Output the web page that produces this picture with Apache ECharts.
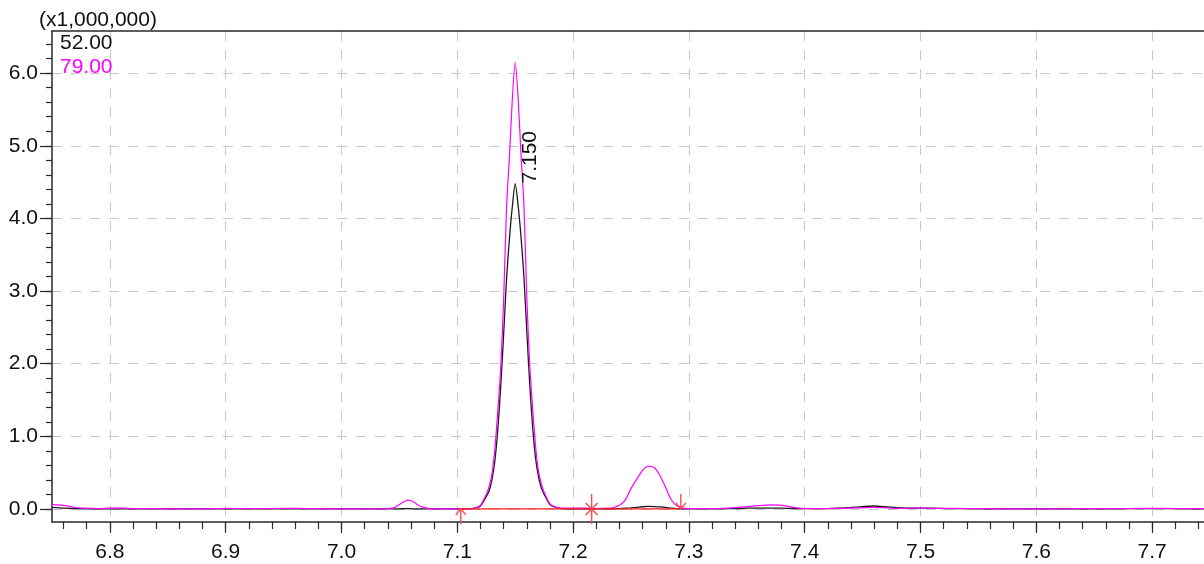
<!DOCTYPE html>
<html>
<head>
<meta charset="utf-8">
<title>TIC 52 / 79</title>
<script src="https://cdn.jsdelivr.net/npm/echarts@6/dist/echarts.min.js"></script>
<style>
  html, body { margin: 0; padding: 0; background: #fff; }
  #chart { width: 1204px; height: 564px; }
</style>
</head>
<body>
<div id="chart"></div>
<script>
// retention time (min)
var times = [
  6.750, 6.760, 6.770, 6.780, 6.790, 6.800, 6.810, 6.820, 6.840, 6.860,
  6.880, 6.900, 6.920, 6.940, 6.960, 6.980, 7.000, 7.020, 7.040, 7.045,
  7.050, 7.055, 7.058, 7.062, 7.066, 7.070, 7.075, 7.080, 7.090, 7.100,
  7.110, 7.115, 7.120, 7.125, 7.1275, 7.130, 7.1325, 7.135, 7.1375, 7.140,
  7.1425, 7.145, 7.1475, 7.150, 7.1525, 7.155, 7.1575, 7.160, 7.1625, 7.165,
  7.1675, 7.170, 7.1725, 7.175, 7.180, 7.185, 7.190, 7.200, 7.210, 7.220,
  7.230, 7.235, 7.240, 7.245, 7.250, 7.255, 7.260, 7.265, 7.270, 7.275,
  7.280, 7.285, 7.290, 7.295, 7.300, 7.310, 7.320, 7.330, 7.340, 7.350,
  7.360, 7.370, 7.380, 7.390, 7.400, 7.410, 7.420, 7.430, 7.440, 7.450,
  7.460, 7.470, 7.480, 7.490, 7.500, 7.510, 7.520, 7.540, 7.560, 7.580,
  7.600, 7.620, 7.640, 7.660, 7.680, 7.700, 7.720, 7.740, 7.750
];
// intensity, x1,000,000 — m/z 52.00
var ion52 = [
  0.02, 0.01, 0.005, 0, 0, 0, 0, 0, 0, 0,
  0, 0, 0, 0, 0, 0, 0, 0, 0, 0,
  0.002, 0.003, 0.003, 0.002, 0, 0, 0, 0, 0, 0,
  0, 0.01, 0.04, 0.17, 0.25, 0.41, 0.67, 1.10, 1.69, 2.40,
  3.16, 3.72, 4.16, 4.48, 4.18, 3.75, 3.20, 2.45, 1.73, 1.14,
  0.71, 0.45, 0.29, 0.20, 0.06, 0.02, 0.005, 0, 0, 0,
  0, 0.002, 0.005, 0.01, 0.015, 0.022, 0.03, 0.034, 0.033, 0.028,
  0.02, 0.01, 0.004, 0, 0, 0, 0, 0.003, 0.006, 0.01,
  0.012, 0.012, 0.01, 0.006, 0.004, 0.003, 0.005, 0.012, 0.02, 0.032,
  0.04, 0.03, 0.018, 0.012, 0.012, 0.01, 0.006, 0.003, 0, 0,
  0, 0, 0, 0.002, 0.003, 0.003, 0.003, 0.002, 0.002
];
// intensity, x1,000,000 — m/z 79.00
var ion79 = [
  0.06, 0.05, 0.02, 0.01, 0.005, 0.01, 0.01, 0.005, 0.003, 0,
  0, 0.008, 0.004, 0.006, 0.008, 0.003, 0, 0, 0.003, 0.015,
  0.06, 0.11, 0.12, 0.10, 0.055, 0.025, 0.008, 0, 0, 0,
  0, 0.01, 0.05, 0.20, 0.31, 0.49, 0.84, 1.36, 1.94, 2.87,
  4.15, 4.84, 5.64, 6.15, 5.66, 4.88, 4.20, 2.92, 1.99, 1.40,
  0.88, 0.53, 0.35, 0.23, 0.07, 0.025, 0.01, 0.01, 0.01, 0.005,
  0.01, 0.02, 0.05, 0.12, 0.28, 0.41, 0.53, 0.59, 0.57, 0.46,
  0.29, 0.12, 0.04, 0.012, 0.005, 0.003, 0.005, 0.008, 0.018, 0.032,
  0.046, 0.055, 0.05, 0.022, 0.006, 0.004, 0.006, 0.008, 0.012, 0.018,
  0.022, 0.015, 0.008, 0.01, 0.01, 0.008, 0.008, 0.006, 0.003, 0,
  0, 0.002, 0.003, 0.004, 0.006, 0.007, 0.006, 0.004, 0.004
];
var seriesNames = ['52.00', '79.00'];
var seriesColors = ['#1a1a1a', '#ff00ff'];

// integration: peak start, valley split, peak end
var peakMarks = [7.103, 7.216, 7.293];
var markKinds = ['start', 'split', 'end'];
var peakTime = 7.150;

var xTicks = [6.8, 6.9, 7.0, 7.1, 7.2, 7.3, 7.4, 7.5, 7.6, 7.7];
var yTicks = [0, 1, 2, 3, 4, 5, 6];
var xMin = 6.75, xMax = 7.7448;
var yMin = -0.18, yMax = 6.58;

var xMinor = [];
for (var t = 6.76; t < 7.745; t += 0.02) xMinor.push(Math.round(t * 100) / 100);
var yMinor = [];
for (var v = 0; v <= 6.45; v += 0.2) yMinor.push(Math.round(v * 10) / 10);

var font = '"Liberation Sans", Arial, sans-serif';
var axisCol = '#2a2a2a';
var gridCol = '#c8c8c8';

function pairs(vals) {
  return times.map(function (t, i) { return [t, vals[i]]; });
}

var chart = echarts.init(document.getElementById('chart'), null, { renderer: 'canvas' });

function baseAxis(extra) {
  var a = {
    type: 'value',
    axisLine: { show: false, onZero: false },
    axisTick: { show: false },
    axisLabel: { show: false },
    splitLine: { show: false }
  };
  for (var k in extra) a[k] = extra[k];
  return a;
}

chart.setOption({
  animation: false,
  backgroundColor: '#fff',
  textStyle: { fontFamily: font },
  title: {
    text: '(x1,000,000)',
    left: 39, top: 10, padding: 0,
    textStyle: { fontSize: 21, fontWeight: 'normal', color: '#111', fontFamily: font }
  },
  legend: {
    orient: 'vertical',
    left: 55, top: 33, padding: 0,
    icon: 'none', itemWidth: 0, itemHeight: 21, itemGap: 3,
    selectedMode: false,
    textStyle: { fontSize: 21, fontFamily: font },
    data: [
      { name: seriesNames[0], textStyle: { color: '#111' } },
      { name: seriesNames[1], textStyle: { color: seriesColors[1] } }
    ]
  },
  grid: { left: 52, right: -2, top: 31, bottom: 42, containLabel: false },
  xAxis: [
    baseAxis({
      min: xMin, max: xMax, position: 'bottom',
      axisLine: { show: true, onZero: false, lineStyle: { color: axisCol, width: 1.5 } },
      axisTick: { show: true, customValues: xTicks, length: 11, lineStyle: { color: axisCol, width: 1.2 } },
      axisLabel: {
        show: true, customValues: xTicks, margin: 20,
        fontSize: 21, color: '#111', fontFamily: font,
        formatter: function (v) { return v.toFixed(1); }
      },
      splitLine: { show: true, lineStyle: { color: gridCol, width: 1, type: [10, 9] } }
    }),
    baseAxis({
      min: xMin, max: xMax, position: 'bottom',
      axisTick: { show: true, customValues: xMinor, length: 7, lineStyle: { color: axisCol, width: 1.2 } }
    }),
    baseAxis({
      min: xMin, max: xMax, position: 'top',
      axisLine: { show: true, onZero: false, lineStyle: { color: axisCol, width: 1.5 } }
    })
  ],
  yAxis: [
    baseAxis({
      min: yMin, max: yMax, position: 'left',
      axisLine: { show: true, onZero: false, lineStyle: { color: axisCol, width: 1.5 } },
      axisTick: { show: true, customValues: yTicks, length: 12, lineStyle: { color: axisCol, width: 1.2 } },
      axisLabel: {
        show: true, customValues: yTicks, margin: 14,
        fontSize: 21, color: '#111', fontFamily: font,
        formatter: function (v) { return v.toFixed(1); }
      },
      splitLine: { show: true, lineStyle: { color: gridCol, width: 1, type: [10, 9] } }
    }),
    baseAxis({
      min: yMin, max: yMax, position: 'left',
      axisTick: { show: true, customValues: yMinor, length: 6, lineStyle: { color: axisCol, width: 1.2 } }
    })
  ],
  series: [
    {
      name: seriesNames[0], type: 'line', data: pairs(ion52),
      showSymbol: false, symbol: 'none', smooth: 0.25, z: 3,
      lineStyle: { color: seriesColors[0], width: 1.3 },
      itemStyle: { color: seriesColors[0] }
    },
    {
      name: seriesNames[1], type: 'line', data: pairs(ion79),
      showSymbol: false, symbol: 'none', smooth: 0.25, z: 4,
      lineStyle: { color: seriesColors[1], width: 1.2 },
      itemStyle: { color: seriesColors[1] }
    },
    {
      name: 'baseline', type: 'line', z: 5, silent: true,
      data: peakMarks.map(function (t) { return [t, 0]; }),
      showSymbol: false, symbol: 'none',
      lineStyle: { color: '#ff1a1a', width: 1.2 }
    },
    {
      name: 'marks', type: 'custom', z: 6, silent: true, clip: false,
      data: peakMarks.map(function (t, i) { return [t, 0, i]; }),
      renderItem: function (params, api) {
        var p = api.coord([api.value(0), api.value(1)]);
        var x = p[0], y = p[1];
        var kind = markKinds[api.value(2)];
        var st = { stroke: '#ff4a4a', lineWidth: 1.4, fill: null };
        var kids = [];
        if (kind === 'start') {
          kids.push({ type: 'line', shape: { x1: x, y1: y + 15, x2: x, y2: y }, style: st });
          kids.push({ type: 'polyline', shape: { points: [[x - 5, y + 6], [x, y], [x + 5, y + 6]] }, style: st });
        } else if (kind === 'split') {
          kids.push({ type: 'line', shape: { x1: x, y1: y - 15, x2: x, y2: y + 15 }, style: st });
          kids.push({ type: 'line', shape: { x1: x - 6, y1: y - 6, x2: x + 6, y2: y + 6 }, style: st });
          kids.push({ type: 'line', shape: { x1: x - 6, y1: y + 6, x2: x + 6, y2: y - 6 }, style: st });
        } else {
          kids.push({ type: 'line', shape: { x1: x, y1: y - 15, x2: x, y2: y }, style: st });
          kids.push({ type: 'polyline', shape: { points: [[x - 5, y - 6], [x, y], [x + 5, y - 6]] }, style: st });
        }
        return { type: 'group', children: kids };
      }
    }
  ]
});

// retention-time label above the main peak of 52.00
var apex = 0;
times.forEach(function (t, i) { if (ion52[i] > ion52[apex]) apex = i; });
var pk = chart.convertToPixel({ xAxisIndex: 0, yAxisIndex: 0 }, [peakTime, ion52[apex]]);
chart.setOption({
  graphic: [{
    type: 'text', x: pk[0] + 15, y: pk[1], rotation: Math.PI / 2, z: 10,
    style: {
      text: peakTime.toFixed(3), fill: '#111',
      font: '21px ' + font,
      align: 'left', verticalAlign: 'middle',
      textAlign: 'left', textVerticalAlign: 'middle'
    }
  }]
});
</script>
</body>
</html>
